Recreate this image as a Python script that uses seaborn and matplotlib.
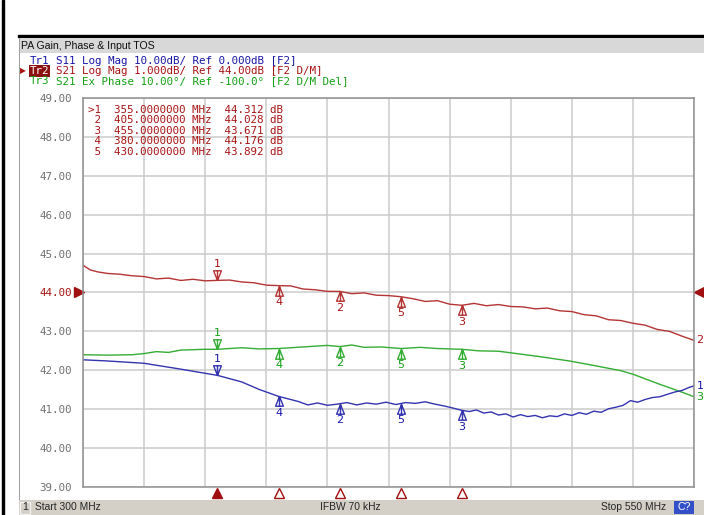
import numpy as np
import matplotlib
matplotlib.use('Agg')
import matplotlib.pyplot as plt
import matplotlib.transforms as mtransforms
import seaborn as sns
from matplotlib.path import Path
from matplotlib.patches import Rectangle

W, H = 704, 515

# Tr2: S21 Log Mag (dB), 1 dB/div, ref 44 dB at centre line
s21_freq = [300, 303, 306, 310, 315, 320, 325, 330, 335, 340, 345, 350, 355, 360, 365,
            370, 375, 380, 385, 390, 395, 400, 405, 410, 415, 420, 425, 430, 435, 440,
            445, 450, 455, 460, 465, 470, 475, 480, 485, 490, 495, 500, 505, 510, 515,
            520, 525, 530, 535, 540, 545, 550]
s21_mag = [44.70, 44.58, 44.53, 44.49, 44.47, 44.43, 44.41, 44.35, 44.37, 44.31, 44.34,
           44.30, 44.312, 44.32, 44.27, 44.25, 44.19, 44.176, 44.17, 44.09, 44.07, 44.03,
           44.028, 43.97, 43.99, 43.93, 43.92, 43.892, 43.84, 43.77, 43.79, 43.70, 43.671,
           43.72, 43.66, 43.69, 43.64, 43.63, 43.58, 43.60, 43.53, 43.51, 43.43, 43.40,
           43.30, 43.28, 43.21, 43.16, 43.05, 43.00, 42.88, 42.77]

# Tr3: S21 Ex Phase (deg), 10 deg/div, ref -100 deg
phase_freq = [300, 310, 320, 325, 330, 335, 340, 350, 355, 365, 372, 380, 390, 400, 405,
              410, 415, 422, 430, 438, 445, 455, 462, 470, 475, 487, 499, 511, 520, 525,
              536, 545, 550]
phase_deg = [-116.0, -116.1, -116.0, -115.7, -115.2, -115.4, -114.8, -114.6, -114.6,
             -114.2, -114.5, -114.4, -114.0, -113.6, -113.9, -113.5, -114.1, -114.0,
             -114.4, -114.1, -114.4, -114.6, -115.0, -115.1, -115.5, -116.5, -117.6,
             -119.0, -120.1, -121.0, -123.6, -125.6, -126.8]

# Tr1: S11 Log Mag (dB), 10 dB/div, ref 0 dB
s11_freq = [300, 310, 325, 339, 355, 365, 372, 380, 388, 392, 396, 400, 404, 408, 412,
            416, 420, 424, 428, 432, 436, 440, 444, 448, 452, 455, 458, 461, 464, 467,
            470, 473, 476, 479, 482, 485, 488, 491, 494, 497, 500, 503, 506, 509, 512,
            515, 518, 521, 524, 527, 530, 533, 536, 539, 542, 545, 548, 550]
s11_mag = [-17.3, -17.6, -18.2, -19.6, -21.3, -23.0, -24.9, -26.7, -28.0, -28.9, -28.4,
           -29.0, -28.7, -28.3, -28.9, -28.4, -28.7, -28.2, -28.8, -28.3, -28.5, -28.1,
           -28.7, -29.2, -29.8, -30.3, -30.6, -30.2, -31.0, -30.7, -31.5, -31.2, -32.0,
           -31.4, -31.9, -31.6, -32.2, -31.7, -31.9, -31.2, -31.6, -30.9, -31.3, -30.5,
           -30.8, -29.9, -29.5, -29.0, -27.8, -28.2, -27.5, -27.0, -26.8, -26.2, -25.6,
           -25.2, -24.4, -24.0]

marker_ids = ['1', '2', '3', '4', '5']
marker_freq = [355, 405, 455, 380, 430]
marker_s21 = [44.312, 44.028, 43.671, 44.176, 43.892]

trace_names = ['Tr1', 'Tr2', 'Tr3']
trace_info = ['S11 Log Mag 10.00dB/ Ref 0.000dB [F2]',
              'S21 Log Mag 1.000dB/ Ref 44.00dB [F2 D/M]',
              'S21 Ex Phase 10.00\u00b0/ Ref -100.0\u00b0 [F2 D/M Del]']

RED, GREEN, BLUE = '#b53434', '#34ad34', '#3434b0'
RED_TXT, GREEN_TXT, BLUE_TXT = '#a81414', '#14a014', '#1818a8'
MONO = 'DejaVu Sans Mono'
SANS = 'Liberation Sans'
CHAR_W = 0.602 * 7.8 * 100 / 72


def fx(px):
    return px / W


def fy(py):
    return 1 - py / H


def to_display(values, ref, per_div):
    return 44 + (np.asarray(values) - ref) / per_div


sns.set_style('white')
fig = plt.figure(figsize=(W / 100, H / 100), dpi=100)

# frame decoration
fig.patches.append(Rectangle((fx(2), 0), fx(2), 1, transform=fig.transFigure, color='black'))
fig.patches.append(Rectangle((fx(18), fy(37)), fx(W - 18), 2 / H, transform=fig.transFigure, color='black'))
fig.patches.append(Rectangle((fx(19), fy(53)), fx(W - 19), (53 - 38) / H, transform=fig.transFigure,
                             facecolor='#d8d8d8', edgecolor='none'))
fig.patches.append(Rectangle((fx(19), fy(500)), 1 / W, (500 - 38) / H, transform=fig.transFigure,
                             facecolor='#a0a0a0', edgecolor='none'))
fig.patches.append(Rectangle((fx(19), 0), fx(W - 19), 15 / H, transform=fig.transFigure,
                             facecolor='#d4d0c8', edgecolor='none'))
fig.patches.append(Rectangle((fx(674), 1 / H), fx(20), 13 / H, transform=fig.transFigure,
                             facecolor='#3450c8', edgecolor='none'))
fig.patches.append(Rectangle((fx(20), 1.5 / H), fx(10), 12 / H, transform=fig.transFigure,
                             facecolor='none', edgecolor='#f4f4f4', lw=0.8))

fig.text(fx(21), fy(46), 'PA Gain, Phase & Input TOS', family=SANS, fontsize=7.6, va='center', color='#101010')
fig.text(fx(22), fy(507), '1', family=SANS, fontsize=7.6, va='center')
fig.text(fx(35), fy(507), 'Start 300 MHz', family=SANS, fontsize=7.4, va='center')
fig.text(fx(350), fy(507), 'IFBW 70 kHz', family=SANS, fontsize=7.4, va='center', ha='center')
fig.text(fx(666), fy(507), 'Stop 550 MHz', family=SANS, fontsize=7.4, va='center', ha='right')
fig.text(fx(684), fy(507), 'C?', family=SANS, fontsize=7.6, va='center', ha='center', color='white')

for name, line, col, py in zip(trace_names, trace_info, [BLUE_TXT, RED_TXT, GREEN_TXT], [61, 71, 81]):
    if name == 'Tr2':
        fig.text(fx(30), fy(py), name, family=MONO, fontsize=7.8, va='center', color='white',
                 bbox=dict(boxstyle='square,pad=0.05', facecolor='#8c1010', edgecolor='none'))
    else:
        fig.text(fx(30), fy(py), name, family=MONO, fontsize=7.8, va='center', color=col)
    fig.text(fx(30 + 4 * CHAR_W), fy(py), line, family=MONO, fontsize=7.8, va='center', color=col)
fig.text(fx(20), fy(71), '\u25b6', family='DejaVu Sans', fontsize=5.5, va='center', color=RED_TXT)

ax = fig.add_axes([fx(83), fy(487), (694 - 83) / W, (487 - 98) / H])
ax.set_xlim(300, 550)
ax.set_ylim(39, 49)
ax.set_xticks(np.arange(300, 551, 25))
ax.set_xticklabels([])
ax.set_yticks(np.arange(39, 50))
ax.set_yticklabels([f'{v:.2f}' for v in np.arange(39, 50)], family=MONO, fontsize=7.8, color='#707070')
ax.get_yticklabels()[5].set_color(RED_TXT)
ax.tick_params(length=0, pad=8)
ax.grid(True, color='#cccccc', lw=1.1)
for sp in ax.spines.values():
    sp.set_color('#909090')
    sp.set_linewidth(1.1)

red_y = to_display(s21_mag, 44, 1)
green_y = to_display(phase_deg, -100, 10)
blue_y = to_display(s11_mag, 0, 10)

sns.lineplot(x=s21_freq, y=red_y, ax=ax, color=RED, lw=1.0)
sns.lineplot(x=phase_freq, y=green_y, ax=ax, color=GREEN, lw=1.0)
sns.lineplot(x=s11_freq, y=blue_y, ax=ax, color=BLUE, lw=1.0)

down = Path([(0, 0), (-0.4, 1), (0.4, 1), (0, 0), (0, 0), (0, 1)],
            [Path.MOVETO, Path.LINETO, Path.LINETO, Path.CLOSEPOLY, Path.MOVETO, Path.LINETO])
up = Path([(0, 0), (-0.4, -1), (0.4, -1), (0, 0), (0, 0), (0, -1)],
          [Path.MOVETO, Path.LINETO, Path.LINETO, Path.CLOSEPOLY, Path.MOVETO, Path.LINETO])

traces = [(marker_s21, RED, RED_TXT),
          (np.interp(marker_freq, phase_freq, green_y), GREEN, GREEN_TXT),
          (np.interp(marker_freq, s11_freq, blue_y), BLUE, BLUE_TXT)]
for ys, col, tcol in traces:
    for mid, f, y in zip(marker_ids, marker_freq, ys):
        active = mid == '1'
        ax.plot([f], [y], marker=down if active else up, ms=14, mfc='none', mec=col, mew=1.0, ls='none')
        ax.annotate(mid, (f, y), xytext=(0, 12 if active else -12), textcoords='offset points',
                    ha='center', va='center', fontsize=8, family='DejaVu Sans', color=tcol)

# end-of-trace numbers
end_tr = mtransforms.blended_transform_factory(ax.transAxes, ax.transData)
for label, y, tcol in [('2', red_y[-1], RED_TXT), ('1', blue_y[-1], BLUE_TXT), ('3', green_y[-1], GREEN_TXT)]:
    ax.text(1.004, y, label, transform=end_tr, fontsize=8, color=tcol, ha='left', va='center', clip_on=False)

# reference level arrows
ax.plot([-0.007], [44], marker='>', ms=7, color='#a01010', transform=end_tr, clip_on=False)
ax.plot([1.009], [44], marker='<', ms=7, color='#a01010', transform=end_tr, clip_on=False)

# marker position arrows under the grid
bot_tr = mtransforms.blended_transform_factory(ax.transData, ax.transAxes)
for mid, f in zip(marker_ids, marker_freq):
    filled = mid == '1'
    ax.plot([f], [-0.016], marker='^', ms=7, mec='#a01010', mew=1.0,
            mfc='#a01010' if filled else 'white', transform=bot_tr, clip_on=False)

# marker table
for i, (mid, f, v) in enumerate(zip(marker_ids, marker_freq, marker_s21)):
    prefix = '>' if mid == '1' else ' '
    row = f'{prefix}{mid}  {f:.7f} MHz  {v:.3f} dB'
    fig.text(fx(88), fy(110 + i * 10.5), row, family=MONO, fontsize=7.8, va='center', color=RED_TXT)

fig.savefig('out.png', dpi=100)
